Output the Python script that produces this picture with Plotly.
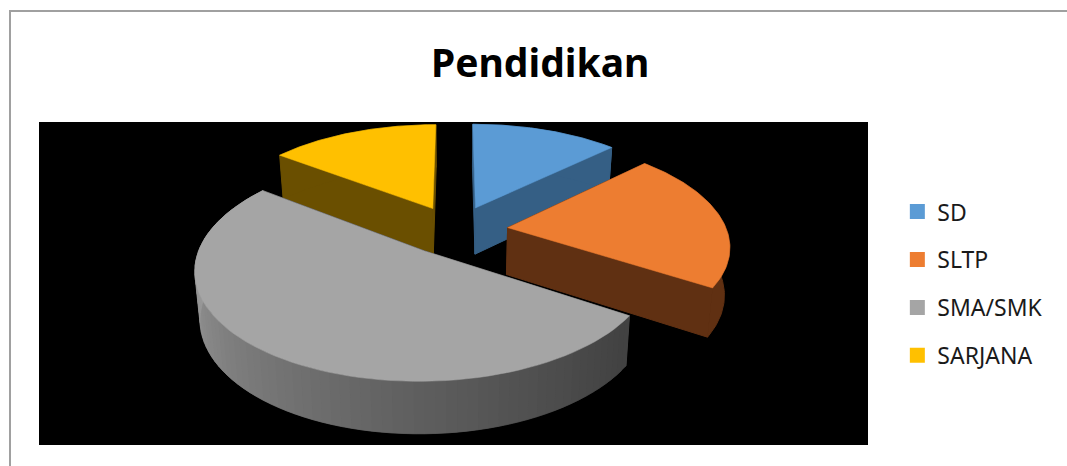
import numpy as np
import plotly.graph_objects as go

# Chart data (percent share)
categories = ["SD", "SLTP", "SMA/SMK", "SARJANA"]
values = [12.8, 21.3, 51.2, 14.7]
top_colors = ["#5B9BD5", "#ED7D31", "#A5A5A5", "#FFC000"]
wall_colors = ["#355F85", "#603012", None, "#6A4F00"]
draw_order = [0, 3, 1, 2]

# Projection of the pie plane onto the page (pixels)
CX, CY = 455.5, 230
RX, RY = 219, 103
PERSPECTIVE = 0.155
DEPTH = 47
PULL = 0.24
BOTTOM_SHRINK = 0.02


def project(u, v, drop=0.0):
    """Ground plane point to page pixels, drop pushes it down the side of the pie."""
    w = 1 + PERSPECTIVE * v
    shrink = 1 - BOTTOM_SHRINK if drop else 1
    return CX + shrink * RX * u / w, CY - RY * v / w + drop / w ** 0.54


def grey_shade(theta):
    """Side wall of the big slice goes light on the left, dark on the right."""
    t = np.clip((theta - 125) / (275 - 125), 0, 1)
    return int(66 + (158 - 66) * t ** 1.15)


def polygon(fig, xs, ys, color, width=1):
    fig.add_trace(go.Scatter(x=xs, y=ys, mode="lines", fill="toself", fillcolor=color,
                             line=dict(color=color, width=width), showlegend=False, hoverinfo="skip"))


fig = go.Figure()

# Slice angles run clockwise from 12 o'clock
edges = np.concatenate([[0], np.cumsum(values)]) / sum(values) * 360

for i in draw_order:
    a0, a1 = edges[i], edges[i + 1]
    mid = np.radians((a0 + a1) / 2)
    pu, pv = PULL * np.sin(mid), PULL * np.cos(mid)
    angles = np.linspace(a0, a1, 80)
    us = pu + np.sin(np.radians(angles))
    vs = pv + np.cos(np.radians(angles))

    # Radial walls, then the outer wall, then the top on top of them
    wall = wall_colors[i] or "#444444"
    for k in [0, -1]:
        qx0, qy0 = project(pu, pv)
        qx1, qy1 = project(us[k], vs[k])
        qx2, qy2 = project(us[k], vs[k], DEPTH)
        qx3, qy3 = project(pu, pv, DEPTH)
        polygon(fig, [qx0, qx1, qx2, qx3, qx0], [qy0, qy1, qy2, qy3, qy0], wall)

    if wall_colors[i]:
        tx, ty = project(us, vs)
        bx, by = project(us, vs, DEPTH)
        polygon(fig, list(tx) + list(bx[::-1]), list(ty) + list(by[::-1]), wall)
    else:
        # Overlapping strips so no seams show between the shades
        for j in range(0, len(angles) - 1):
            tx, ty = project(us[j:j + 3], vs[j:j + 3])
            bx, by = project(us[j:j + 3], vs[j:j + 3], DEPTH)
            g = grey_shade((angles[j] + angles[j + 1]) / 2)
            polygon(fig, list(tx) + list(bx[::-1]), list(ty) + list(by[::-1]), f"rgb({g},{g},{g})", 0.5)

    tx, ty = project(us, vs)
    ax, ay = project(pu, pv)
    polygon(fig, [ax] + list(tx) + [ax], [ay] + list(ty) + [ay], top_colors[i], 0.5)

# Legend entries
for name, color in zip(categories, top_colors):
    fig.add_trace(go.Scatter(x=[None], y=[None], mode="markers", name=name, legendgroup=name,
                             marker=dict(symbol="square", size=15, color=color)))

fig.update_layout(
    width=1067,
    height=466,
    margin=dict(l=0, r=0, t=0, b=0),
    paper_bgcolor="white",
    plot_bgcolor="white",
    font=dict(family="Noto Sans", color="#1a1a1a"),
    xaxis=dict(range=[0, 1067], visible=False, fixedrange=True),
    yaxis=dict(range=[466, 0], visible=False, fixedrange=True),
    legend=dict(x=0.841, y=0.592, xanchor="left", yanchor="top", font=dict(size=23),
                tracegroupgap=15, bgcolor="rgba(0,0,0,0)"),
    annotations=[dict(text="<b>Pendidikan</b>", x=540, y=61, xref="x", yref="y", showarrow=False,
                      font=dict(family="Noto Sans", size=39, color="black"))],
    shapes=[
        dict(type="rect", x0=39, x1=868, y0=122, y1=445, xref="x", yref="y",
             fillcolor="black", line_width=0, layer="below"),
        dict(type="path", path="M 10 466 L 10 11 L 1067 11", xref="x", yref="y",
             line=dict(color="#A0A0A0", width=2), layer="below"),
    ],
)

fig.write_html("out.html", config=dict(displayModeBar=False),
               post_script="document.body.style.margin='0';document.body.style.overflow='hidden';")
